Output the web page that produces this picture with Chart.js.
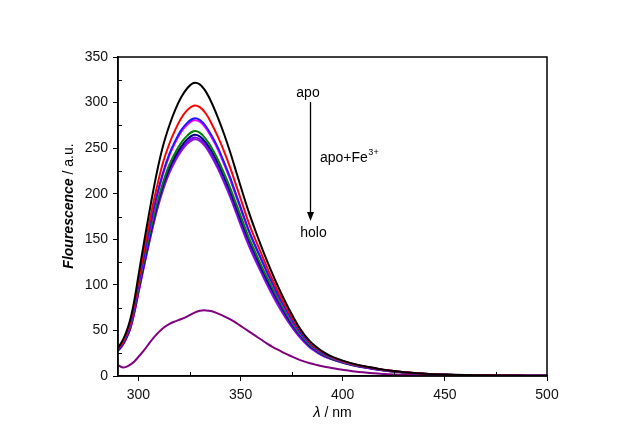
<!DOCTYPE html>
<html>
<head>
<meta charset="utf-8">
<script src="https://cdn.jsdelivr.net/npm/chart.js@4.4.1/dist/chart.umd.min.js"></script>
<style>
html,body{margin:0;padding:0;background:#fff;}
canvas{display:block;}
</style>
</head>
<body>
<canvas id="c" width="627" height="440"></canvas>
<script>
// ---- data ----
const wavelengths = [290,292,294,296,298,300,303,306,309,312,315,318,321,324,327,330,333,336,339,342,345,348,351,354,357,360,363,366,369,372,375,378,381,384,387,390,394,398,402,406,410,415,420,425,430,440,450,460,470,480,490,500];

const apoBlack = [31,38,48,62,83,110,150,188,223,252,274,292,306,316,321.5,320,312,299,283,265,245,223,201,180,161,143,126,110,95,81,68,56,46,38,32,27,22,18.5,15.5,13,11,9,7,5.5,4.2,2.6,1.6,1.0,0.7,0.5,0.4,0.3];
const fe1Red = [30,36,46,59,79,104,141,176,207,234,254,270,283,292,296.5,295,288,276,262,246,228,208,188,168,151,135,119,104,90,77,65,54,45,37,31,26.5,21.5,18,15,12.7,10.8,8.8,6.9,5.4,4.1,2.5,1.5,1.0,0.7,0.5,0.4,0.3];
const fe2Blue = [29,35,44,57,76,100,135,168,198,223,243,258,270,278,282.5,281,274,263,250,234,217,198,179,160,144,129,114,100,86,74,62,52,43,36,30,25.5,21,17.5,14.7,12.4,10.5,8.5,6.7,5.2,4.0,2.4,1.5,1.0,0.7,0.5,0.4,0.3];
const fe3Magenta = [29,35,44,56,75,99,134,167,196,221,241,256,268,276,280.5,279,272,261,248,232,215,196,177,159,143,128,113,99,85,73,61,51,42.5,35.5,29.5,25,20.7,17.3,14.5,12.2,10.4,8.4,6.6,5.1,4.0,2.4,1.5,1.0,0.7,0.5,0.4,0.3];
const fe4Green = [29,35,43,55,73,96,130,161,189,212,231,245,256,264,268.5,267,260,250,237,222,206,188,170,152,137,122,108,95,82,70,59,49,41,34,28.5,24,20,16.7,14,11.8,10,8.1,6.4,5.0,3.9,2.4,1.5,1.0,0.7,0.5,0.4,0.3];
const fe5Navy = [28,34,42,54,72,94,127,158,186,209,227,241,252,260,264.5,263,256,246,233,218,202,184,166,149,134,119,105,92,80,68,57,48,40,33,28,23.5,19.5,16.3,13.8,11.6,9.8,8,6.3,4.9,3.8,2.3,1.4,0.9,0.6,0.5,0.4,0.3];
const fe6Violet = [28,33,41,52,70,92,124,155,183,206,224,238,249,257,261.5,260,253,242,229,214,198,180,162,145,130,116,102,89,77,66,55,46,38.5,32,27,23,19,16,13.5,11.3,9.6,7.8,6.2,4.8,3.7,2.3,1.4,0.9,0.6,0.5,0.4,0.3];
const fe7Purple = [28,33,41,52,69,91,123,153,181,204,222,236,247,255,259.5,258,251,240,227,212,196,178,160,143,128,114,100,87,75,64,54,45,37.5,31,26.5,22.5,18.8,15.8,13.3,11.2,9.5,7.7,6.1,4.7,3.6,2.2,1.4,0.9,0.6,0.5,0.4,0.3];
const holoPurple = [12,9.5,10,12.5,16,21,29,38,46,52.5,57,60,62.5,65.5,69,71.5,72,71,68.5,65.5,62,58,53.5,49,44.5,40,35.5,31.5,28,24.5,21.5,18.5,16,14,12.2,10.6,9,7.4,6.2,5,4,2.9,2.2,1.7,1.3,0.9,0.6,0.4,0.3,0.3,0.3,0.3];

const xMajorTicks = [300,350,400,450,500];
const xMinorTicks = [325,375,425,475];
const yMajorTicks = [0,50,100,150,200,250,300,350];
const yMinorTicks = [25,75,125,175,225,275,325];

const seriesList = [
  {label:'apo', values: apoBlack, color:'#000000'},
  {label:'apo+Fe 1', values: fe1Red, color:'#ff0000'},
  {label:'apo+Fe 2', values: fe2Blue, color:'#1a1aff'},
  {label:'apo+Fe 3', values: fe3Magenta, color:'#ff00ff'},
  {label:'apo+Fe 4', values: fe4Green, color:'#008000'},
  {label:'apo+Fe 5', values: fe5Navy, color:'#000080'},
  {label:'apo+Fe 6', values: fe6Violet, color:'#8000ff'},
  {label:'apo+Fe 7', values: fe7Purple, color:'#9020c0'},
  {label:'holo', values: holoPurple, color:'#800080'}
];

const FONT = '"Liberation Sans", Arial, sans-serif';

const datasets = seriesList.map(s => ({
  label: s.label,
  data: wavelengths.map((w,i) => ({x:w, y:s.values[i]})),
  borderColor: s.color,
  backgroundColor: s.color,
  borderWidth: 2,
  pointRadius: 0,
  fill: false,
  tension: 0.35
}));

const framePlugin = {
  id: 'frame',
  afterDraw(chart){
    const {ctx, chartArea:a, scales:{x, y}} = chart;
    ctx.save();
    ctx.strokeStyle = '#000';
    ctx.lineWidth = 1.5;
    ctx.strokeRect(a.left, a.top, a.right - a.left, a.bottom - a.top);
    // minor ticks (inward)
    ctx.lineWidth = 1;
    ctx.beginPath();
    xMinorTicks.forEach(v => {
      const px = Math.round(x.getPixelForValue(v)) + 0.5;
      ctx.moveTo(px, a.bottom); ctx.lineTo(px, a.bottom - 4);
    });
    yMinorTicks.forEach(v => {
      const py = Math.round(y.getPixelForValue(v)) + 0.5;
      ctx.moveTo(a.left, py); ctx.lineTo(a.left + 4, py);
    });
    ctx.stroke();

    ctx.fillStyle = '#000';
    // y title
    ctx.save();
    ctx.translate(69, 206);
    ctx.rotate(-Math.PI/2);
    const p1 = 'Flourescence', p2 = ' / a.u.';
    ctx.font = 'italic bold 14px ' + FONT;
    const w1 = ctx.measureText(p1).width;
    ctx.font = '14px ' + FONT;
    const w2 = ctx.measureText(p2).width;
    const start = -(w1 + w2)/2;
    ctx.textBaseline = 'middle';
    ctx.textAlign = 'left';
    ctx.font = 'italic bold 14px ' + FONT;
    ctx.fillText(p1, start, 0);
    ctx.font = '14px ' + FONT;
    ctx.fillText(p2, start + w1, 0);
    ctx.restore();

    // x title
    const q1 = 'λ', q2 = ' / nm';
    ctx.font = 'italic 15px ' + FONT;
    const v1 = ctx.measureText(q1).width;
    ctx.font = '14px ' + FONT;
    const v2 = ctx.measureText(q2).width;
    const cx = (a.left + a.right)/2;
    const sx = cx - (v1 + v2)/2;
    ctx.textBaseline = 'middle';
    ctx.textAlign = 'left';
    ctx.font = 'italic 15px ' + FONT;
    ctx.fillText(q1, sx, 413);
    ctx.font = '14px ' + FONT;
    ctx.fillText(q2, sx + v1, 413);

    // annotations
    ctx.font = '14px ' + FONT;
    ctx.textAlign = 'center';
    ctx.fillText('apo', 308, 93);
    ctx.fillText('holo', 313.5, 233);
    ctx.textAlign = 'left';
    ctx.fillText('apo+Fe', 320, 158);
    const fw = ctx.measureText('apo+Fe').width;
    ctx.font = '9px ' + FONT;
    ctx.fillText('3+', 320 + fw + 0.5, 153);

    // arrow
    ctx.strokeStyle = '#000';
    ctx.lineWidth = 1.3;
    ctx.beginPath();
    ctx.moveTo(310.5, 102);
    ctx.lineTo(310.5, 214);
    ctx.stroke();
    ctx.beginPath();
    ctx.moveTo(310.5, 221);
    ctx.lineTo(307, 212);
    ctx.lineTo(314, 212);
    ctx.closePath();
    ctx.fill();
    ctx.restore();
  }
};

new Chart(document.getElementById('c'), {
  type: 'line',
  data: { datasets },
  options: {
    responsive: false,
    animation: false,
    devicePixelRatio: 1,
    layout: { padding: { left: 0, right: 80, top: 57, bottom: 0 } },
    plugins: { legend: { display: false }, tooltip: { enabled: false } },
    scales: {
      x: {
        type: 'linear',
        min: 290, max: 500,
        afterFit: s => { s.height = 64; },
        afterBuildTicks: s => { s.ticks = xMajorTicks.map(v => ({value: v})); },
        ticks: { color: '#111', font: { family: FONT, size: 14 }, padding: 6, maxRotation: 0 },
        grid: { display: true, drawOnChartArea: false, drawTicks: true, tickLength: 5, color: '#000', lineWidth: 1 },
        border: { display: true, color: '#000', width: 1.5 }
      },
      y: {
        type: 'linear',
        min: 0, max: 350,
        afterFit: s => { s.width = 118; },
        afterBuildTicks: s => { s.ticks = yMajorTicks.map(v => ({value: v})); },
        ticks: { color: '#111', font: { family: FONT, size: 14 }, padding: 5 },
        grid: { display: true, drawOnChartArea: false, drawTicks: true, tickLength: 5, color: '#000', lineWidth: 1 },
        border: { display: true, color: '#000', width: 1.5 }
      }
    }
  },
  plugins: [framePlugin]
});
</script>
</body>
</html>
